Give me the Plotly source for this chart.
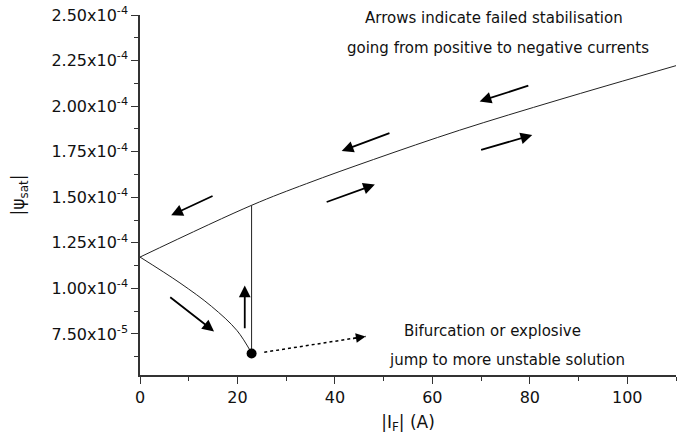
import plotly.graph_objects as go

# ---- data ----
upper_x = [0, 22.9, 34.2, 47.9, 65.6, 86.0, 110.0]
upper_y = [1.172e-4, 1.456e-4, 1.575e-4, 1.707e-4, 1.868e-4, 2.035e-4, 2.222e-4]

lower_x = [0, 8.2, 14.7, 19.9, 22.9]
lower_y = [1.172e-4, 1.030e-4, 0.901e-4, 0.769e-4, 0.645e-4]

jump_x = [22.9, 22.9]
jump_y = [0.645e-4, 1.456e-4]

bif_x = [22.9]
bif_y = [0.643e-4]

y_tickvals = [7.5e-5, 1.0e-4, 1.25e-4, 1.5e-4, 1.75e-4, 2.0e-4, 2.25e-4, 2.5e-4]
y_ticktext = ["7.50x10<sup>-5</sup>", "1.00x10<sup>-4</sup>", "1.25x10<sup>-4</sup>",
              "1.50x10<sup>-4</sup>", "1.75x10<sup>-4</sup>", "2.00x10<sup>-4</sup>",
              "2.25x10<sup>-4</sup>", "2.50x10<sup>-4</sup>"]
x_tickvals = [0, 20, 40, 60, 80, 100]

# arrows: (tail_x, tail_y, head_x, head_y)
arrows = [
    (15.2, 1.511e-4, 6.4, 1.401e-4),
    (5.9, 0.958e-4, 15.2, 0.764e-4),
    (21.5, 0.773e-4, 21.5, 1.016e-4),
    (51.5, 1.855e-4, 41.4, 1.754e-4),
    (38.0, 1.471e-4, 48.2, 1.570e-4),
    (80.0, 2.115e-4, 69.7, 2.026e-4),
    (69.7, 1.758e-4, 80.5, 1.841e-4),
]
dotted_arrow = (25.5, 0.650e-4, 46.3, 0.7365e-4)

texts = [
    ("Arrows indicate failed stabilisation", 72.7, 2.485e-4),
    ("going from positive to negative currents", 73.5, 2.32e-4),
    ("Bifurcation or explosive", 72.3, 0.768e-4),
    ("jump to more unstable solution", 75.3, 0.609e-4),
]

FONT = "DejaVu Sans"
LINE = "#222222"

fig = go.Figure()
fig.add_trace(go.Scatter(x=upper_x, y=upper_y, mode="lines", line=dict(color=LINE, width=1),
                         line_shape="spline", hoverinfo="skip"))
fig.add_trace(go.Scatter(x=lower_x, y=lower_y, mode="lines", line=dict(color=LINE, width=1),
                         line_shape="spline", hoverinfo="skip"))
fig.add_trace(go.Scatter(x=jump_x, y=jump_y, mode="lines", line=dict(color=LINE, width=1),
                         hoverinfo="skip"))
fig.add_trace(go.Scatter(x=bif_x, y=bif_y, mode="markers",
                         marker=dict(color="black", size=10, line=dict(width=0)),
                         hoverinfo="skip"))

# dotted arrow: line + head
tx, ty, hx, hy = dotted_arrow
fig.add_trace(go.Scatter(x=[tx, hx], y=[ty, hy], mode="lines",
                         line=dict(color="black", width=1.5, dash="dot"), hoverinfo="skip"))
fig.add_annotation(x=hx, y=hy, ax=-14, ay=2.2, xref="x", yref="y", text="",
                   showarrow=True, arrowhead=2, arrowsize=1.3, arrowwidth=1.5,
                   arrowcolor="black", standoff=0)

for (tx, ty, hx, hy) in arrows:
    fig.add_annotation(x=hx, y=hy, ax=tx, ay=ty, xref="x", yref="y", axref="x", ayref="y",
                       text="", showarrow=True, arrowhead=2, arrowsize=1.3, arrowwidth=1.8,
                       arrowcolor="black")

for (t, x, y) in texts:
    fig.add_annotation(x=x, y=y, xref="x", yref="y", text=t, showarrow=False,
                       font=dict(family=FONT, size=15, color="#111111"))

fig.update_layout(
    width=689, height=441,
    margin=dict(l=140, r=13, t=15, b=66),
    paper_bgcolor="white", plot_bgcolor="white",
    showlegend=False,
    font=dict(family=FONT, size=15, color="#111111"),
)
fig.update_xaxes(
    range=[0, 110], tickmode="array", tickvals=x_tickvals, automargin=False,
    ticklabeloverflow="allow",
    showline=True, linecolor="#333333", linewidth=1.6, showgrid=False, zeroline=False,
    ticks="outside", ticklen=7, tickwidth=1.3, tickcolor="#333333",
    minor=dict(tickmode="linear", tick0=10, dtick=20, ticks="outside", ticklen=4,
               tickwidth=1.2, tickcolor="#333333", showgrid=False),
    title=dict(text="|I<sub>F</sub>| (A)", font=dict(family=FONT, size=17), standoff=10),
    tickfont=dict(family=FONT, size=16),
)
fig.update_yaxes(
    range=[5.25e-5, 2.5e-4], tickmode="array", tickvals=y_tickvals, ticktext=y_ticktext,
    automargin=False, ticklabeloverflow="allow",
    showline=True, linecolor="#333333", linewidth=1.6, showgrid=False, zeroline=False,
    ticks="outside", ticklen=7, tickwidth=1.3, tickcolor="#333333",
    minor=dict(tickmode="linear", tick0=6.25e-5, dtick=2.5e-5, ticks="outside", ticklen=4,
               tickwidth=1.2, tickcolor="#333333", showgrid=False),
    title=dict(text="|ψ<sub>sat</sub>|", font=dict(family=FONT, size=17), standoff=22),
    tickfont=dict(family=FONT, size=16),
)

# remove the default page margin so the figure sits at the window's top-left corner
fig.write_html("out.html", config={"displayModeBar": False},
               post_script="document.body.style.margin='0';")
